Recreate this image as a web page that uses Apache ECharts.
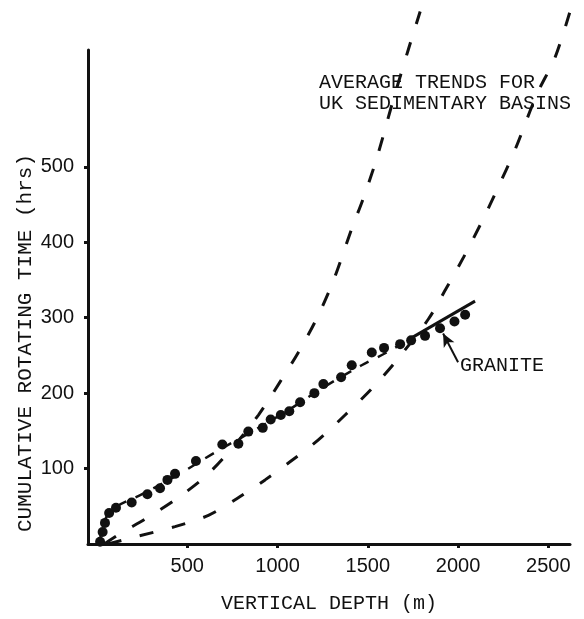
<!DOCTYPE html>
<html>
<head>
<meta charset="utf-8">
<script src="https://cdn.jsdelivr.net/npm/echarts@6/dist/echarts.min.js"></script>
<style>
html,body{margin:0;padding:0;background:#fff;}
#c{width:584px;height:619px;}
</style>
</head>
<body>
<div id="c"></div>
<script>
// Granite: measured points (vertical depth m, cumulative rotating time hrs)
var graniteDepth = [17,31,44,67,105,192,279,349,390,432,548,694,783,838,918,962,1018,1065,1125,1204,1254,1352,1411,1522,1590,1679,1740,1817,1900,1980,2039];
var graniteHours = [3,16,28,41,48,55,66,74,85,93,110,132,133,149,154,165,171,176,188,200,212,221,237,254,260,265,270,276,286,295,304];
// Granite trend line (dashed part, then solid part)
var trendDashDepth = [15,50,110,250,450,650,850,1050,1250,1466,1605,1740];
var trendDashHours = [5,35,50,66,92,121,148,176,207,237,254,273];
var trendSolidDepth = [1740,2094];
var trendSolidHours = [273,322];
// Average trends for UK sedimentary basins
var ukSteepDepth = [40,137,266,441,598,737,894,1014,1115,1217,1309,1411,1476,1549,1640,1725,1790];
var ukSteepHours = [0,15,33,60,89,124,171,215,254,299,349,418,459,511,588,656,706];
var ukShallowDepth = [60,220,432,617,774,931,1069,1226,1374,1522,1651,1835,1937,2030,2135,2218,2316,2436,2537,2620];
var ukShallowHours = [0,10,23,38,60,85,109,138,171,206,241,298,340,380,429,471,523,596,645,706];
// Axis ticks
var xTicks = [500,1000,1500,2000,2500];
var yTicks = [100,200,300,400,500];
// Annotation arrow (from label to points)
var arrowFrom = [2000,241];
var arrowTo = [1917,279];

function pairs(a,b){ return a.map(function(v,i){ return [v,b[i]]; }); }
function plain(v){ return String(v); }

var chart = echarts.init(document.getElementById('c'));
var ink = '#111';
var mono = '"Liberation Mono", "DejaVu Sans Mono", monospace';
chart.setOption({
  backgroundColor: '#fff',
  animation: false,
  grid: {left: 88, right: 14, top: 50, bottom: 75},
  xAxis: {
    type: 'value', min: -50, max: 2620,
    axisLine: {onZero: false, lineStyle: {color: ink, width: 3}},
    axisTick: {customValues: xTicks, length: 4, lineStyle: {color: ink, width: 3}},
    axisLabel: {customValues: xTicks, formatter: plain, color: ink, fontSize: 20, fontFamily: 'Liberation Sans', margin: 12},
    splitLine: {show: false},
    name: 'VERTICAL DEPTH (m)', nameLocation: 'middle', nameGap: 50,
    nameTextStyle: {color: ink, fontSize: 20, fontFamily: mono}
  },
  yAxis: {
    type: 'value', min: 0, max: 655,
    axisLine: {show: true, onZero: false, lineStyle: {color: ink, width: 3}},
    axisTick: {show: true, customValues: yTicks, length: 4, lineStyle: {color: ink, width: 3}},
    axisLabel: {customValues: yTicks, formatter: plain, color: ink, fontSize: 20, fontFamily: 'Liberation Sans', margin: 14},
    splitLine: {show: false}
  },
  graphic: [
    {type: 'text', x: 25, y: 343, rotation: Math.PI/2,
     style: {text: 'CUMULATIVE ROTATING TIME (hrs)', fill: ink, font: '21px ' + mono, align: 'center', verticalAlign: 'middle'}},
    {type: 'text', left: 319, top: 72,
     style: {text: 'AVERAGE TRENDS FOR\nUK SEDIMENTARY BASINS', fill: ink, font: '20px ' + mono, lineHeight: 21}},
    {type: 'text', left: 460, top: 356,
     style: {text: 'GRANITE', fill: ink, font: '20px ' + mono}}
  ],
  series: [
    {type: 'line', data: pairs(ukSteepDepth, ukSteepHours), smooth: 0.3, symbol: 'none', clip: false,
     lineStyle: {color: ink, width: 3, type: [14,19]}},
    {type: 'line', data: pairs(ukShallowDepth, ukShallowHours), smooth: 0.3, symbol: 'none', clip: false,
     lineStyle: {color: ink, width: 3, type: [14,19]}},
    {type: 'line', data: pairs(trendDashDepth, trendDashHours), smooth: 0.3, symbol: 'none',
     lineStyle: {color: ink, width: 2.5, type: [10,10]}},
    {type: 'line', data: pairs(trendSolidDepth, trendSolidHours), symbol: 'none',
     lineStyle: {color: ink, width: 3},
     markLine: {silent: true, symbol: ['none','arrow'], symbolSize: [9,13],
       lineStyle: {color: ink, width: 2, type: 'solid'}, label: {show: false},
       data: [[{coord: arrowFrom}, {coord: arrowTo}]]}},
    {type: 'scatter', data: pairs(graniteDepth, graniteHours), symbol: 'circle', symbolSize: 10,
     itemStyle: {color: ink, opacity: 1}}
  ]
});
</script>
</body>
</html>
